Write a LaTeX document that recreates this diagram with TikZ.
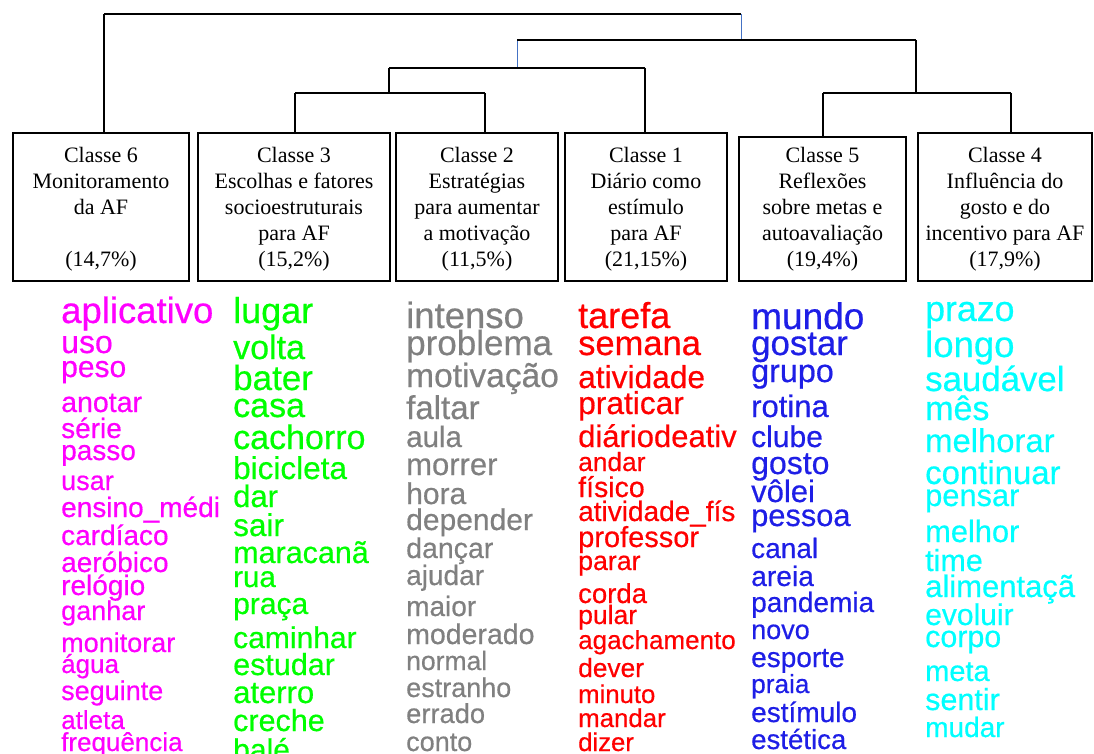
\documentclass[tikz,border=0pt]{standalone}
\usepackage{fontspec}
\setmainfont{Liberation Serif}
\newfontfamily\cloudfont[FakeBold=0.5]{Liberation Sans}
\definecolor{cmag}{RGB}{255,0,255}
\definecolor{cgreen}{RGB}{0,255,0}
\definecolor{cgrey}{RGB}{128,128,128}
\definecolor{cred}{RGB}{255,0,0}
\definecolor{cblue}{RGB}{30,30,230}
\definecolor{ccyan}{RGB}{0,255,255}
\definecolor{linkblue}{RGB}{68,114,196}
\newcommand{\topstrut}{\rule{0pt}{19pt}}
\tikzset{
  classbox/.style={draw=black, line width=1.3pt, inner sep=0pt, align=center,
    font=\fontsize{22}{26}\selectfont},
  bar/.style={draw=black, line width=2.2pt},
  stem/.style={draw=black, line width=1.5pt},
  bluestem/.style={draw=linkblue, line width=1pt},
  word/.style={anchor=base west, inner sep=0pt},
}
\begin{document}
\begin{tikzpicture}[x=1pt,y=-1pt]
\useasboundingbox (0,0) rectangle (1094,754);

% class boxes
\node[classbox, minimum width=176, minimum height=148] (c6) at (101,207)
  {\topstrut Classe 6\\Monitoramento\\da AF\\\mbox{}\\(14,7\%)};
\node[classbox, minimum width=192, minimum height=148] (c3) at (294,207)
  {\topstrut Classe 3\\Escolhas e fatores\\socioestruturais\\para AF\\(15,2\%)};
\node[classbox, minimum width=162, minimum height=148] (c2) at (477,207)
  {\topstrut Classe 2\\Estratégias\\para aumentar\\a motivação\\(11,5\%)};
\node[classbox, minimum width=162, minimum height=148] (c1) at (646,207)
  {\topstrut Classe 1\\Diário como\\estímulo\\para AF\\(21,15\%)};
\node[classbox, minimum width=167, minimum height=144] (c5) at (822.5,209)
  {Classe 5\\Reflexões\\sobre metas e\\autoavaliação\\(19,4\%)};
\node[classbox, minimum width=174, minimum height=148] (c4) at (1005,207)
  {\topstrut Classe 4\\Influência do\\gosto e do\\incentivo para AF\\(17,9\%)};

% dendrogram junctions
\coordinate (b1l) at (104,14);  \coordinate (b1r) at (741,14);
\coordinate (b2l) at (517,40);  \coordinate (b2r) at (916,40);
\coordinate (b3l) at (389,68);  \coordinate (b3r) at (645,68);
\coordinate (b4l) at (295,93);  \coordinate (b4r) at (485,93);
\coordinate (b5l) at (823,93);  \coordinate (b5r) at (1011,93);

% vertical links
\draw[stem] (b1l) -- (b1l |- c6.north);
\draw[bluestem] (b1r) -- (b1r |- b2l);
\draw[bluestem] (b2l) -- (b2l |- b3l);
\draw[stem] (b2r) -- (b2r |- b5l);
\draw[stem] (b3l) -- (b3l |- b4l);
\draw[stem] (b3r) -- (b3r |- c1.north);
\draw[stem] (b4l) -- (b4l |- c3.north);
\draw[stem] (b4r) -- (b4r |- c2.north);
\draw[stem] (b5l) -- (b5l |- c5.north);
\draw[stem] (b5r) -- (b5r |- c4.north);

% horizontal bars
\draw[bar] (b1l) -- (b1r);
\draw[bar] (b2l) -- (b2r);
\draw[bar] (b3l) -- (b3r);
\draw[bar] (b4l) -- (b4r);
\draw[bar] (b5l) -- (b5r);

% class 6 words
\foreach \s/\y/\w [count=\i] in {36.5/323/aplicativo, 32/353/uso, 30/377/peso,
    28.5/412/anotar, 28/438/série, 28/460/passo, 27/490/usar,
    28/517/ensino\_médi, 28/545/cardíaco, 28/572/aeróbico, 28/595/relógio,
    27/620/ganhar, 27/652/monitorar, 26/673/água, 27/700/seguinte,
    26/729/atleta, 26/751/frequência}
  \node[word, text=cmag, font={\cloudfont\fontsize{\s}{\s}\selectfont}] (m\i) at (61,\y) {\w};

% class 3 words
\foreach \s/\y/\w [count=\i] in {36/323/lugar, 34/359/volta, 35/390/bater,
    34/417/casa, 34/449/cachorro, 31.5/479/bicicleta, 31/507/dar,
    31.5/536/sair, 30.5/563/maracanã, 29.5/587/rua, 30/614/praça,
    30/648/caminhar, 30.5/675/estudar, 31/703/aterro, 30.5/731/creche,
    30/760/balé}
  \node[word, text=cgreen, font={\cloudfont\fontsize{\s}{\s}\selectfont}] (g\i) at (233,\y) {\w};

% class 2 words
\foreach \s/\y/\w [count=\i] in {36.5/328/intenso, 35/355/problema,
    33.5/387/motivação, 33/419/faltar, 29.5/447/aula, 31/475/morrer,
    30/504/hora, 30/530/depender, 28.5/558/dançar, 28/585/ajudar,
    28/616/maior, 28.5/644/moderado, 26.5/670/normal, 27/697/estranho,
    27.3/723/errado, 27/751/conto}
  \node[word, text=cgrey, font={\cloudfont\fontsize{\s}{\s}\selectfont}] (y\i) at (406,\y) {\w};

% class 1 words, cut at the column edge
\begin{scope}
\clip (570,290) rectangle (740,760);
\foreach \s/\y/\w [count=\i] in {36/328/tarefa, 34.5/355/semana,
    31.7/388/atividade, 31.7/414/praticar, 31/447/diáriodeativ,
    26.3/471/andar, 28.5/497/físico, 28/521/atividade\_fís,
    29/547/professor, 26.7/570/parar, 27.5/603/corda, 26.5/624/pular,
    26/649/agachamento, 26.3/677/dever, 25.7/703/minuto,
    25.8/727/mandar, 25.7/751/dizer}
  \node[word, text=cred, font={\cloudfont\fontsize{\s}{\s}\selectfont}] (r\i) at (578,\y) {\w};
\end{scope}

% class 5 words
\foreach \s/\y/\w [count=\i] in {37/329/mundo, 34.8/355/gostar,
    32.3/382/grupo, 31/417/rotina, 30/447/clube, 32/474/gosto,
    31/502/vôlei, 30.8/526/pessoa, 28/558/canal, 28.2/586/areia,
    28/612/pandemia, 27/639/novo, 28/667/esporte, 26.2/693/praia,
    28/722/estímulo, 27.6/749/estética}
  \node[word, text=cblue, font={\cloudfont\fontsize{\s}{\s}\selectfont}] (u\i) at (751,\y) {\w};

% class 4 words, cut at the right edge
\begin{scope}
\clip (915,290) rectangle (1080,760);
\foreach \s/\y/\w [count=\i] in {35.7/321/prazo, 36.5/357/longo,
    34.8/391/saudável, 34/420/mês, 32.8/452/melhorar,
    32.9/484/continuar, 30.8/506/pensar, 30.8/542/melhor,
    30.5/571/time, 31/597/alimentaçã, 30/625/evoluir, 30.4/647/corpo,
    29/681/meta, 30.5/710/sentir, 28/737/mudar}
  \node[word, text=ccyan, font={\cloudfont\fontsize{\s}{\s}\selectfont}] (k\i) at (925,\y) {\w};
\end{scope}
\end{tikzpicture}
\end{document}
